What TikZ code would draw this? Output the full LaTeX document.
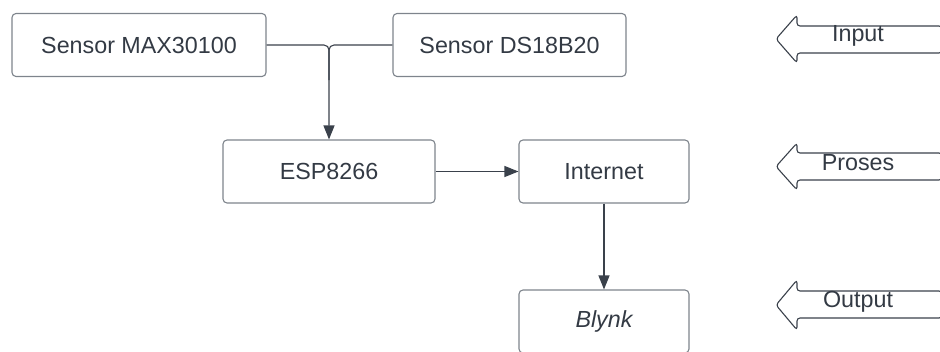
\documentclass[tikz,border=0pt]{standalone}
\usepackage{fontspec}
\setmainfont{Liberation Sans}
\usetikzlibrary{arrows.meta}
\definecolor{boxline}{HTML}{7E848C}
\definecolor{txt}{HTML}{333A44}
\definecolor{conn}{HTML}{3A414B}
\begin{document}
\begin{tikzpicture}[x=1pt,y=-1pt,
  blk/.style={draw=boxline,line width=1.1pt,rounded corners=4pt,text=txt,
    font=\fontsize{23.3}{26}\selectfont,minimum height=63pt,inner sep=0pt},
  conn/.style={draw=conn,line width=1.1pt,-{Triangle[length=14pt,width=11pt]}},
  lbl/.style={text=txt,font=\fontsize{23.3}{26}\selectfont,inner sep=0pt},
  barrow/.style={draw=conn,line width=1.1pt,rounded corners=3pt}]
\useasboundingbox (0,0) rectangle (940,351);
\clip (0,0) rectangle (940,351);
\node[blk,minimum width=254pt] (max) at (139,45) {Sensor MAX30100};
\node[blk,minimum width=233pt] (ds) at (509.5,45) {Sensor DS18B20};
\node[blk,minimum width=212pt] (esp) at (329,171.5) {ESP8266};
\node[blk,minimum width=170pt] (inet) at (604,171.5) {Internet};
\node[blk,minimum width=170pt] (blynk) at (604,321.5) {\itshape Blynk};
\coordinate (j) at (329,80);
\draw[conn,rounded corners=5pt] (max.east) -| (esp.north);
\draw[draw=conn,line width=1.1pt,rounded corners=5pt] (ds.west) -| (j);
\draw[conn] (esp.east) -- (inet.west);
\draw[conn] (inet.south) -- (blynk.north);
% block arrows
\draw[barrow] (942,26) -- (797,26) -- (797,15) -- (776,39) -- (797,63) -- (797,53) -- (942,53) -- cycle;
\node[lbl] (lin) at (858,36) {Input};
\draw[barrow] (942,153) -- (797,153) -- (797,143) -- (776,166.5) -- (797,190) -- (797,180) -- (942,180) -- cycle;
\node[lbl] (lpr) at (858,163) {Proses};
\draw[barrow] (942,291) -- (797,291) -- (797,280) -- (776,305) -- (797,330) -- (797,318) -- (942,318) -- cycle;
\node[lbl] (lout) at (858,302) {Output};
\end{tikzpicture}
\end{document}
